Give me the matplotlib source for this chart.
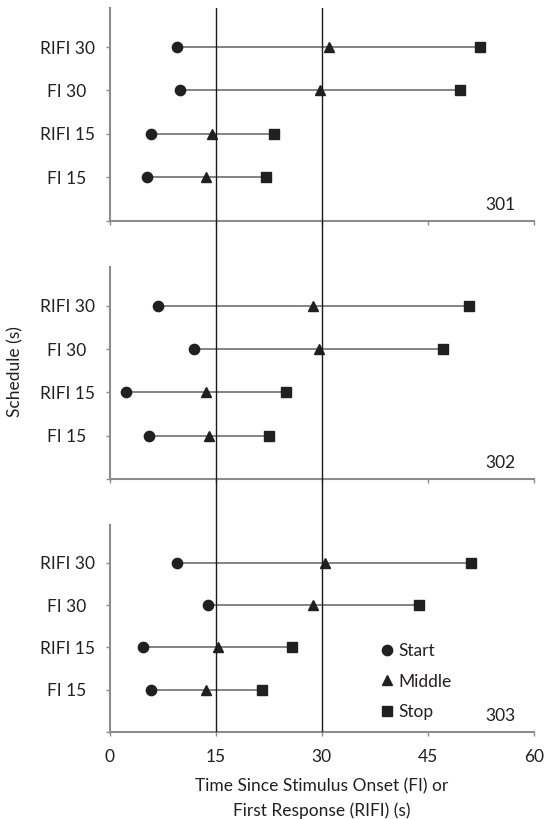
import numpy as np
import matplotlib.pyplot as plt
from matplotlib.lines import Line2D

plt.rcParams['font.family'] = ['Lato', 'DejaVu Sans']

schedules = ["FI 15", "RIFI 15", "FI 30", "RIFI 30"]
subjects = ["301", "302", "303"]

# start / middle / stop times (s), one row per subject, ordered as schedules
start_times = [
    [5.3, 5.8, 10.0, 9.6],
    [5.6, 2.4, 11.9, 6.8],
    [5.8, 4.8, 13.9, 9.5],
]
middle_times = [
    [13.7, 14.5, 29.8, 31.0],
    [14.1, 13.7, 29.6, 28.8],
    [13.6, 15.3, 28.8, 30.4],
]
stop_times = [
    [22.1, 23.3, 49.5, 52.4],
    [22.6, 25.0, 47.1, 50.8],
    [21.5, 25.8, 43.7, 51.1],
]

x_ticks = [0, 15, 30, 45, 60]
ref_lines = [15, 30]

W, H = 544, 819
fig = plt.figure(figsize=(W / 100, H / 100), dpi=100)

# panel boxes in pixels: (top, bottom)
left_px, right_px = 109.5, 534
panel_px = [(8, 220.7), (266.7, 479), (525, 731.7)]

mark_col = '#231f20'
line_col = '#6e6e6e'
spine_col = '#8c8c8c'
text_col = '#231f20'
fs = 12.5

ypos = np.arange(1, len(schedules) + 1)
axes = []
for i, (top, bot) in enumerate(panel_px):
    ax = fig.add_axes([left_px / W, 1 - bot / H, (right_px - left_px) / W, (bot - top) / H])
    axes.append(ax)
    ax.hlines(ypos, start_times[i], stop_times[i], color=line_col, lw=1.2, zorder=2)
    ax.plot(start_times[i], ypos, 'o', ms=7.4, color=mark_col, ls='none', zorder=3)
    ax.plot(middle_times[i], ypos, '^', ms=7.6, color=mark_col, ls='none', zorder=3)
    ax.plot(stop_times[i], ypos, 's', ms=7.0, color=mark_col, ls='none', zorder=3)

    ax.set_xlim(0, 60)
    ax.set_ylim(0, 4.9)
    ax.set_xticks(x_ticks)
    ax.set_yticks(np.arange(0, len(schedules) + 1))
    ax.set_yticklabels([""] + schedules, ha='center')
    for s in ['top', 'right']:
        ax.spines[s].set_visible(False)
    for s in ['left', 'bottom']:
        ax.spines[s].set_color(spine_col)
        ax.spines[s].set_linewidth(1.5)
    ax.tick_params(axis='both', direction='out', length=3.2, width=1.0, color=spine_col,
                   labelsize=fs, labelcolor=text_col)
    ax.tick_params(axis='y', pad=27.4)
    ax.tick_params(axis='x', pad=9)
    if i < 2:
        ax.tick_params(axis='x', labelbottom=False)
    ax.text(0.92, 0.075, subjects[i], transform=ax.transAxes, ha='center', va='center',
            fontsize=fs, color=text_col)

axes[2].set_xlabel("Time Since Stimulus Onset (FI) or\nFirst Response (RIFI) (s)",
                   fontsize=fs, color=text_col, linespacing=1.6, labelpad=9.5)
fig.text(15 / W, 1 - 372 / H, "Schedule (s)", rotation=90, ha='center', va='center',
         fontsize=fs, color=text_col)

# reference lines running through all three panels
top_px, bot_px = panel_px[0][0], panel_px[2][1]
over = fig.add_axes([left_px / W, 1 - bot_px / H, (right_px - left_px) / W, (bot_px - top_px) / H])
over.set_xlim(0, 60)
over.set_ylim(0, 1)
over.axis('off')
for xv in ref_lines:
    over.axvline(xv, color='#1a1a1a', lw=1.0, zorder=5)

handles = [
    Line2D([], [], marker='o', ls='none', color=mark_col, ms=7.4),
    Line2D([], [], marker='^', ls='none', color=mark_col, ms=7.6),
    Line2D([], [], marker='s', ls='none', color=mark_col, ms=7.0),
]
axes[2].legend(handles, ["Start", "Middle", "Stop"], loc='center',
               bbox_to_anchor=(43.4, 1.19), bbox_transform=axes[2].transData,
               frameon=False, fontsize=fs, handlelength=0.7, handletextpad=0.3,
               labelspacing=0.85, borderpad=0, labelcolor=text_col)

fig.savefig("out.png", dpi=100)
